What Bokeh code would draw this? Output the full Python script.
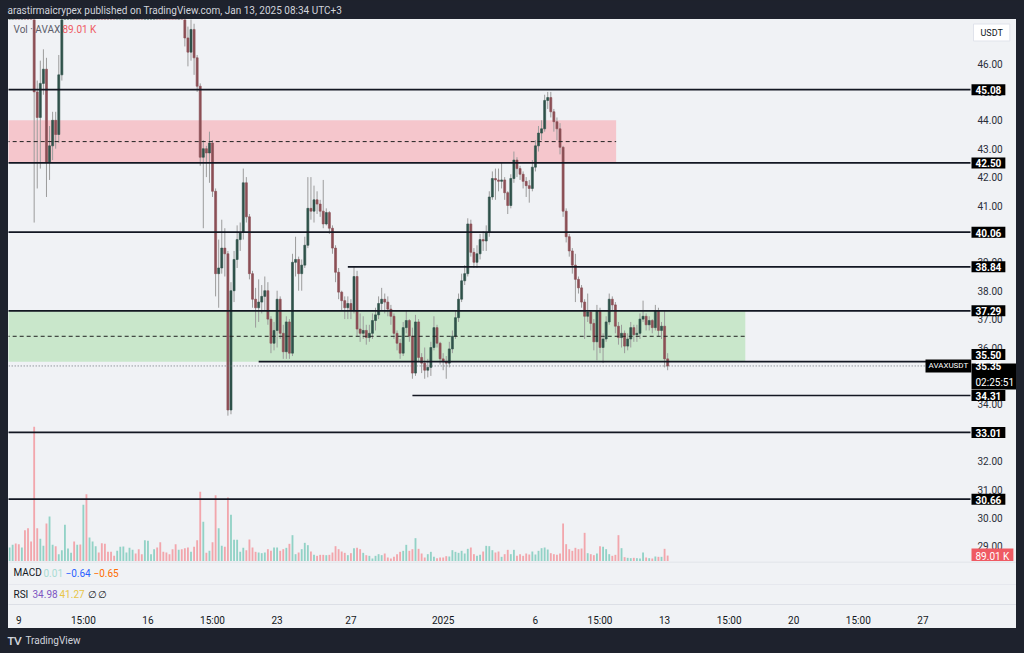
import pandas as pd
from bokeh.plotting import figure
from bokeh.models import Range1d, FixedTicker, Label, Span
from bokeh.layouts import column, row
from bokeh.embed import file_html
from bokeh.resources import INLINE
from bokeh.core.properties import value

# ---------------- data ----------------
SYMBOL = "AVAXUSDT"
CANDLE_START = "2024-12-08 15:00"   # first 4h candle (UTC+3)
CANDLE_HOURS = 4
FIRST_OPEN = 50.8

CLOSE = [
    51.2, 51.6, 51.0, 50.4, 50.8, 50.1, 49.6, 48.8,
    45.0, 44.1, 45.3, 45.8, 42.5, 43.1, 44.0, 43.5, 45.6, 47.9,
    48.9, 49.6, 50.3, 49.8, 50.6, 50.5, 51.6, 50.2, 50.7, 51.5, 52.3, 51.8, 51.1, 50.6, 50.0,
    49.4, 48.8, 49.3, 49.9, 50.5, 51.2, 52.0, 52.6, 52.1, 51.4, 50.8, 51.3, 51.9, 52.4, 53.0,
    52.5, 51.8, 51.0, 50.4, 49.9, 49.2, 48.7, 49.1, 48.4,
    46.9, 46.4, 47.2, 46.2, 45.2, 42.7, 43.0, 42.85, 43.2, 41.5, 38.6, 38.8, 39.5, 39.3, 33.8,
    38.0, 39.1, 39.8, 40.05, 41.8, 40.6, 38.6, 37.7, 37.4, 37.6, 37.8, 38.0, 37.0, 36.15, 36.6,
    37.7, 36.5, 35.85, 36.9, 35.8, 39.0, 39.1, 38.6, 38.9, 39.6, 40.9, 40.8, 41.2, 41.05, 40.8,
    40.35, 40.75, 40.2, 39.5, 38.65, 37.95, 37.65, 37.4, 37.55, 37.3, 38.5,
    36.65, 36.5, 36.6, 36.35, 36.5, 36.95, 37.15, 37.55, 37.7, 37.6, 37.35, 37.1, 36.5, 36.15,
    35.8, 36.7, 36.95, 36.4, 35.1, 36.9, 35.65, 35.45, 35.2, 35.3, 36.0, 36.7, 36.15, 35.6,
    35.5, 35.45, 35.95, 36.4, 37.05, 37.7, 38.35, 38.6,
    40.35, 39.35, 39.0, 39.3, 39.8, 39.75, 40.05, 41.3, 41.95, 41.9, 41.85, 41.9, 41.45, 41.0,
    41.95, 42.6, 42.3, 42.1, 41.85, 41.7, 41.6, 42.35, 43.1, 43.55, 43.7, 44.7, 44.8, 44.3,
    43.95, 43.7, 43.05,
    40.8, 39.9, 39.4, 38.9, 38.4, 38.1, 37.6, 37.1, 37.25, 36.85, 36.2, 37.3, 36.0, 36.3, 36.9,
    37.7, 37.5, 36.75, 36.35, 36.5, 36.05, 36.3, 36.7, 36.45, 36.5, 37.0, 37.1, 36.8, 36.95,
    36.7, 37.3, 36.6, 36.75, 35.6, 35.35,
]
HIGH = [
    51.8, 52.0, 51.7, 51.2, 51.1, 50.9, 50.3, 49.8,
    49.1, 45.4, 46.1, 46.5, 46.2, 43.8, 44.3, 44.3, 46.3, 48.4,
    49.3, 50.0, 50.7, 50.6, 51.0, 51.0, 52.0, 51.8, 51.0, 51.9, 52.8, 52.6, 52.1, 51.4, 50.9,
    50.3, 49.7, 49.7, 50.2, 50.8, 51.5, 52.3, 53.0, 52.9, 52.3, 51.7, 51.6, 52.2, 52.7, 53.4,
    53.3, 52.8, 52.1, 51.3, 50.7, 50.2, 49.5, 49.4, 49.3,
    49.0, 47.3, 47.6, 47.4, 46.3, 45.3, 43.3, 43.1, 43.6, 43.3, 41.6, 39.8, 40.5, 40.2, 39.4,
    38.3, 39.4, 40.3, 40.4, 42.3, 42.0, 40.7, 38.7, 38.1, 38.4, 38.2, 38.5, 38.3, 37.1, 36.9,
    38.0, 37.8, 36.8, 37.1, 37.0, 39.3, 39.9, 39.2, 39.1, 39.9, 42.0, 42.0, 41.7, 41.5, 41.2,
    41.9, 40.9, 40.8, 40.3, 39.6, 38.8, 38.0, 37.8, 37.8, 37.7, 38.84,
    38.7, 37.2, 37.1, 36.8, 36.8, 37.2, 37.4, 37.8, 38.1, 37.9, 37.8, 37.5, 37.2, 36.6,
    36.3, 36.9, 37.3, 37.0, 36.7, 37.15, 37.0, 35.8, 36.0, 35.6, 36.2, 37.1, 36.8, 36.2,
    35.8, 35.7, 36.2, 36.6, 37.3, 37.9, 38.6, 38.9,
    40.55, 40.5, 39.5, 39.6, 40.0, 40.1, 40.3, 41.5, 42.2, 42.3, 42.3, 42.5, 42.0, 41.5,
    42.1, 42.9, 42.7, 42.4, 42.2, 42.0, 41.9, 42.6, 43.3, 43.8, 44.0, 44.9, 45.0, 45.0,
    44.4, 44.1, 43.9,
    43.1, 40.9, 40.0, 39.5, 39.3, 38.5, 38.2, 37.7, 37.9, 37.3, 37.0, 37.5, 37.4, 36.5, 37.1,
    37.9, 37.8, 37.6, 36.9, 36.8, 36.6, 36.5, 36.9, 36.8, 36.8, 37.2, 37.65, 37.2, 37.1,
    37.0, 37.5, 37.4, 36.9, 37.29, 35.8,
]
LOW = [
    50.6, 50.9, 50.6, 49.9, 50.2, 49.8, 49.2, 48.3,
    40.4, 41.6, 42.3, 44.9, 41.3, 41.9, 42.6, 43.0, 43.2, 45.4,
    47.7, 48.6, 49.3, 49.5, 49.5, 50.1, 50.2, 49.8, 49.9, 50.4, 51.2, 51.5, 50.8, 50.2, 49.6,
    49.0, 48.4, 48.5, 49.0, 49.6, 50.2, 51.0, 51.7, 51.8, 51.1, 50.5, 50.4, 51.0, 51.6, 52.1,
    52.2, 51.5, 50.7, 50.1, 49.6, 48.9, 48.3, 48.4, 48.0,
    46.6, 45.9, 46.1, 45.6, 45.0, 42.4, 40.2, 42.0, 41.8, 41.3, 37.8, 37.4, 38.6, 38.5, 33.6,
    33.65, 37.6, 38.8, 39.4, 39.8, 40.4, 38.4, 37.4, 36.7, 36.9, 37.2, 37.3, 36.8, 35.8, 35.9,
    36.0, 36.3, 35.6, 35.6, 35.6, 35.7, 38.5, 38.0, 38.0, 38.8, 39.5, 40.5, 40.4, 40.7, 40.6,
    40.2, 40.3, 40.0, 39.3, 38.3, 37.7, 37.3, 37.0, 37.0, 37.0, 37.2,
    36.4, 36.2, 36.3, 36.1, 36.2, 36.3, 36.6, 37.0, 37.3, 37.2, 37.1, 36.8, 36.3, 35.9,
    35.6, 35.7, 36.5, 36.2, 34.9, 35.0, 35.5, 35.1, 34.9, 34.95, 35.0, 35.9, 36.0, 35.4,
    35.2, 34.9, 35.3, 35.8, 36.3, 36.9, 37.6, 38.2,
    38.5, 39.2, 38.8, 38.8, 39.1, 39.4, 39.4, 39.9, 41.2, 41.2, 41.5, 41.6, 41.2, 40.7,
    40.9, 41.8, 42.0, 41.9, 41.6, 41.3, 41.1, 41.5, 42.2, 42.9, 43.3, 43.6, 44.4, 44.1,
    43.6, 43.3, 42.8,
    40.6, 39.7, 39.2, 38.6, 37.6, 37.9, 37.4, 36.3, 36.9, 36.6, 35.9, 35.55, 35.8, 35.45, 36.2,
    36.8, 37.3, 36.5, 36.1, 36.0, 35.8, 35.9, 36.0, 36.2, 36.2, 36.3, 36.9, 36.6, 36.6,
    36.5, 36.6, 36.4, 36.3, 35.3, 35.2,
]
VOLUME_K = [
    210, 250, 270, 260, 210, 470, 500, 300,
    2020, 500, 340, 235, 570, 675, 250, 230, 110, 170,
    550, 195, 130, 300, 250, 255, 850, 1010, 360, 300,
    230, 135, 275, 265, 145, 145, 85, 160, 220, 225,
    135, 205, 175, 120, 185, 110, 320, 310, 110, 185,
    210, 290, 145, 135, 110, 185, 260, 175, 185, 200,
    210, 145, 220, 320, 1045, 595, 130, 160, 290, 995,
    500, 235, 220, 960, 700, 325, 325, 145, 205, 170,
    330, 210, 145, 135, 125, 135, 185, 160, 210, 210,
    160, 185, 205, 265, 395, 110, 135, 185, 280, 245,
    150, 100, 85, 100, 100, 95, 100, 135, 230, 185,
    150, 130, 95, 125, 200, 205, 185, 130, 95, 85,
    45, 85, 110, 95, 120, 60, 45, 70, 110, 145,
    160, 250, 160, 185, 350, 190, 120, 60, 110, 145,
    70, 50, 60, 60, 80, 75, 170, 145, 130, 160,
    120, 190, 210, 110, 85, 100, 150, 235, 230, 170,
    135, 150, 70, 110, 175, 110, 175, 85, 110, 85,
    120, 105, 150, 105, 160, 200, 210, 180, 125, 110,
    100, 120, 570, 260, 185, 160, 205, 185, 195, 430,
    125, 110, 95, 120, 230, 220, 185, 110, 85, 100,
    395, 200, 65, 55, 50, 55, 50, 45, 135, 60,
    50, 45, 75, 70, 70, 190, 89.01,
]

LEVELS = [45.08, 42.50, 40.06, 38.84, 37.29, 35.50, 34.31, 33.01, 30.66]
LEVEL_FROM = [None, None, None, "2024-12-26 23:00", None, "2024-12-22 03:00",
              "2024-12-30 11:00", None, None]
ZONE_START = "2024-12-05 00:00"
SUPPLY_ZONE = (42.50, 44.00, "2025-01-10 12:00")
DEMAND_ZONE = (35.50, 37.29, "2025-01-17 12:00")
LAST_PRICE = 35.35
COUNTDOWN = "02:25:51"
LAST_VOLUME_TEXT = "89.01 K"

PRICE_TICKS = [29, 30, 31, 32, 33, 34, 35, 36, 37, 38, 39, 40, 41, 42, 43, 44, 45, 46]
TIME_TICKS = ["2024-12-09 03:00", "2024-12-12 15:00", "2024-12-16 03:00", "2024-12-19 15:00",
              "2024-12-23 03:00", "2024-12-27 03:00", "2025-01-01 03:00", "2025-01-06 03:00",
              "2025-01-09 15:00", "2025-01-13 03:00", "2025-01-16 15:00", "2025-01-20 03:00",
              "2025-01-23 15:00", "2025-01-27 03:00"]
TIME_LABELS = ["9", "15:00", "16", "15:00", "23", "27", "2025", "6", "15:00", "13", "15:00",
               "20", "15:00", "27"]
HEADER = "arastirmaicrypex published on TradingView.com, Jan 13, 2025 08:34 UTC+3"
MACD_TEXT = [("MACD", "#131722"), ("0.01", "#a9dcd3"), ("\u22120.64", "#2962ff"), ("\u22120.65", "#ff6d00")]
RSI_TEXT = [("RSI", "#131722"), ("34.98", "#7e57c2"), ("41.27", "#e8c547"), ("\u2205", "#131722"), ("\u2205", "#131722")]

# ---------------- style ----------------
DARK = "#1e222d"
PANEL = "#f0f2f5"
SEP = "#dcdfe6"
FONT = "Roboto"
UP_BODY, DOWN_BODY, WICK = "#2f524a", "#8c4f55", "#9c9c9c"
UP_VOL, DOWN_VOL = "#92d2c6", "#f2a6ac"

ORIGIN = pd.Timestamp("2024-12-09 03:00")
PX_PER_DAY = 18.451
PX_PER_PRICE = 28.4
PANEL_W, MAIN_H = 1008, 542
CHART_RIGHT = 970          # page x where the price scale starts
X0 = -0.558
X1 = X0 + PANEL_W / PX_PER_DAY
Y0 = 28.465
Y1 = Y0 + MAIN_H / PX_PER_PRICE
VOL_K_PER_PX = 15.0


def to_day(t):
    return (pd.Timestamp(t) - ORIGIN) / pd.Timedelta(days=1)


def px_day(px):            # page x (panel starts at 8) -> day
    return X0 + (px - 8) / PX_PER_DAY


def px_price(py):          # page y (panel starts at 19) -> price
    return Y1 - (py - 19) / PX_PER_PRICE


n = len(CLOSE)
times = pd.date_range(CANDLE_START, periods=n, freq=f"{CANDLE_HOURS}h")
xs = [to_day(t) for t in times]
opens = [FIRST_OPEN] + CLOSE[:-1]
up = [c >= o for o, c in zip(opens, CLOSE)]
tops = [max(o, c) for o, c in zip(opens, CLOSE)]
bots = [min(o, c) for o, c in zip(opens, CLOSE)]
body_col = [UP_BODY if u else DOWN_BODY for u in up]
vol_col = [UP_VOL if u else DOWN_VOL for u in up]

# ---------------- main pane ----------------
p = figure(width=PANEL_W, height=MAIN_H, x_range=Range1d(X0, X1), y_range=Range1d(Y0, Y1),
           x_axis_type=None, y_axis_type=None, toolbar_location=None, output_backend="svg",
           min_border=0, background_fill_color=PANEL, border_fill_color=PANEL,
           outline_line_color=None)
p.grid.visible = False
p.extra_y_ranges = {"vol": Range1d(0, MAIN_H * VOL_K_PER_PX)}

right = px_day(CHART_RIGHT)
zs = to_day(ZONE_START)
for lo, hi, end, col in [(*SUPPLY_ZONE, "#f5c6cc"), (*DEMAND_ZONE, "#c9e7cb")]:
    p.quad(left=[zs], right=[to_day(end)], bottom=[lo], top=[hi], fill_color=col, line_color=None)

p.vbar(x=xs, top=VOLUME_K, bottom=0, width=0.1, fill_color=vol_col, line_color=None,
       y_range_name="vol")

p.segment(x0=xs, y0=HIGH, x1=xs, y1=LOW, line_color=WICK, line_width=1)
p.vbar(x=xs, top=tops, bottom=bots, width=0.11, fill_color=body_col, line_color=body_col,
       line_width=0.6)

for lo, hi, end in [SUPPLY_ZONE, DEMAND_ZONE]:
    mid = (lo + hi) / 2
    p.segment(x0=[zs], y0=[mid], x1=[to_day(end)], y1=[mid], line_color="#222222",
              line_width=1, line_dash="4 3")

for lvl, frm in zip(LEVELS, LEVEL_FROM):
    x0 = to_day(frm) if frm else zs
    p.segment(x0=[x0], y0=[lvl], x1=[right], y1=[lvl], line_color="#131722", line_width=1.7)

p.segment(x0=[zs], y0=[LAST_PRICE], x1=[right], y1=[LAST_PRICE], line_color="#6a6d78",
          line_width=1, line_dash="1 2")

# price scale
p.text(x=[px_day(977)] * len(PRICE_TICKS), y=PRICE_TICKS,
       text=[f"{t:.2f}" for t in PRICE_TICKS], text_font=value(FONT),
       text_font_size=value("10px"), text_color="#2a2e39", text_baseline="middle",
       text_align="left")


def box(fig, x, y, text, bg="#000000", fg="#ffffff", size="10px", bold=True, pad=None, border=None):
    lab = Label(x=x, y=y, text=text, text_color=fg, text_font=FONT, text_font_size=size,
                text_font_style="bold" if bold else "normal", text_baseline="middle",
                text_align="left", background_fill_color=bg, border_line_color=border,
                padding=pad if pad is not None else dict(left=4, right=4, top=2, bottom=1))
    fig.add_layout(lab)
    return lab


LBL_X = px_day(971)
# current price block (drawn first so the level tags sit on top of it)
box(p, LBL_X, px_price(376), COUNTDOWN, pad=dict(left=4, right=5, top=13, bottom=2), bold=False)
for lvl in LEVELS:
    y = lvl if lvl != 35.50 else px_price(354)
    box(p, LBL_X, y, f"{lvl:.2f}")
box(p, LBL_X, LAST_PRICE, f"{LAST_PRICE:.2f}", bg=None)
box(p, px_day(925), LAST_PRICE, SYMBOL, size="8px", bold=False,
    pad=dict(left=3, right=3, top=2, bottom=2))
box(p, LBL_X, px_price(555), LAST_VOLUME_TEXT, bg="#ef5a63", bold=False)
box(p, px_day(973), px_price(32), "USDT", bg="#ffffff", fg="#131722", size="9px", bold=False,
    pad=dict(left=7, right=7, top=4, bottom=3), border="#e0e3eb")

for txt, px, col in [("Vol \u00b7 AVAX", 13, "#5d606b"), (LAST_VOLUME_TEXT, 62, "#ef5a63")]:
    p.add_layout(Label(x=px_day(px), y=px_price(29), text=txt, text_color=col, text_font=FONT,
                       text_font_size="10px", text_baseline="middle"))

# ---------------- MACD pane ----------------
pm = figure(width=PANEL_W, height=24, x_range=Range1d(0, PANEL_W), y_range=Range1d(24, 0),
            x_axis_type=None, y_axis_type=None, toolbar_location=None, output_backend="svg",
            min_border=0, background_fill_color=PANEL, border_fill_color=PANEL,
            outline_line_color=None)
pm.grid.visible = False
pm.add_layout(Span(location=0.5, dimension="width", line_color=SEP, line_width=1))
pm.add_layout(Span(location=23.5, dimension="width", line_color=SEP, line_width=1))
for (txt, col), px in zip(MACD_TEXT, [5, 35, 57, 85]):
    pm.add_layout(Label(x=px, y=11, text=txt, text_color=col, text_font=FONT,
                        text_font_size="10px", text_baseline="middle"))

# ---------------- RSI pane + time axis ----------------
pr = figure(width=PANEL_W, height=24 + 19, x_range=p.x_range, y_range=Range1d(24, 0),
            y_axis_type=None, toolbar_location=None, output_backend="svg",
            min_border_left=0, min_border_right=0, min_border_top=0, min_border_bottom=19,
            background_fill_color=PANEL, border_fill_color=PANEL, outline_line_color=None)
pr.grid.visible = False
xa = pr.xaxis[0]
tick_days = [to_day(t) for t in TIME_TICKS]
xa.ticker = FixedTicker(ticks=tick_days)
xa.major_label_overrides = {d: lab for d, lab in zip(tick_days, TIME_LABELS)}
xa.axis_line_color = SEP
xa.major_tick_line_color = None
xa.minor_tick_line_color = None
xa.major_label_standoff = 4
xa.major_label_text_font_size = "10px"
xa.major_label_text_font = FONT
xa.major_label_text_color = "#131722"
for (txt, col), px in zip(RSI_TEXT, [13, 32, 59, 87, 97]):
    pr.add_layout(Label(x=px_day(px), y=11, text=txt, text_color=col, text_font=FONT,
                        text_font_size="10px", text_baseline="middle"))


# ---------------- dark frame ----------------
def dark(w, h):
    f = figure(width=w, height=h, x_range=Range1d(0, w), y_range=Range1d(h, 0),
               x_axis_type=None, y_axis_type=None, toolbar_location=None, output_backend="svg",
               min_border=0, background_fill_color=DARK, border_fill_color=DARK,
               outline_line_color=None)
    f.grid.visible = False
    return f


head = dark(1024, 19)
head.add_layout(Label(x=7, y=10, text=HEADER, text_color="#d1d4dc", text_font=FONT,
                      text_font_size="10px", text_baseline="middle"))
foot = dark(1024, 25)
foot.add_layout(Label(x=7, y=12, text="TV", text_color="#d1d4dc", text_font="Lato",
                      text_font_size="11px", text_font_style="bold", text_baseline="middle"))
foot.add_layout(Label(x=25, y=12, text="TradingView", text_color="#d1d4dc", text_font=FONT,
                      text_font_size="10px", text_baseline="middle"))

panel = column(p, pm, pr, spacing=0, styles={"background-color": PANEL})
middle = row(dark(8, 609), panel, dark(8, 609), spacing=0)
layout = column(head, middle, foot, spacing=0, styles={"background-color": DARK})

open("out.html", "w").write(file_html(layout, INLINE))
